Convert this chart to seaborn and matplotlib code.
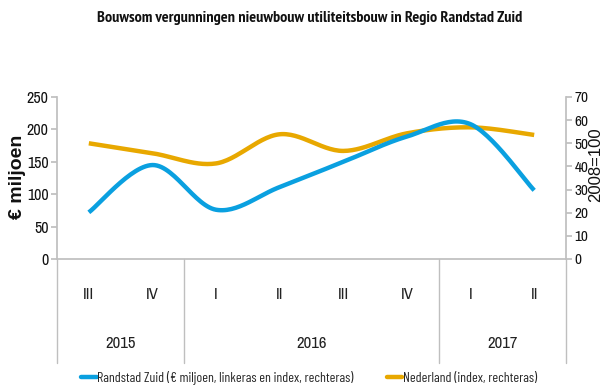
import numpy as np
import pandas as pd
import matplotlib
matplotlib.use("Agg")
import matplotlib.pyplot as plt
import matplotlib.transforms as mtransforms
from matplotlib.lines import Line2D
import seaborn as sns

# Quarterly data
kwartalen = ["III", "IV", "I", "II", "III", "IV", "I", "II"]
jaren = ["2015", "2016", "2017"]
kwartalen_per_jaar = [2, 4, 2]
randstad_zuid = [72, 145, 76, 111, 150, 189, 208, 106]      # € miljoen (left axis)
nederland = [50, 45.7, 41.3, 53.9, 46.7, 54.3, 56.9, 53.6]  # index 2008=100 (right axis)

BLAUW = "#0AA0E0"
GEEL = "#E8A800"
GRIJS = "#BFBFBF"
SMAL = ["Archivo Narrow", "PT Sans Narrow", "DejaVu Sans"]
SMALLER = ["Barlow Condensed", "Archivo Narrow", "DejaVu Sans"]
SMAL_VET = ["PT Sans Narrow", "Roboto Condensed", "DejaVu Sans"]

sns.set_theme(style="white")
plt.rcParams["font.family"] = SMAL


def smooth(xs, ys, n=30):
    """Cubic Bezier smoothing through every point (Catmull-Rom style)."""
    p = np.column_stack([xs, ys]).astype(float)
    p_ext = np.vstack([p[0], p, p[-1]])
    out = []
    t = np.linspace(0, 1, n)[:, None]
    for i in range(len(p) - 1):
        p0, p3 = p[i], p[i + 1]
        c1 = p0 + (p_ext[i + 2] - p_ext[i]) / 6.0
        c2 = p3 - (p_ext[i + 3] - p_ext[i + 1]) / 6.0
        seg = ((1 - t) ** 3) * p0 + 3 * ((1 - t) ** 2) * t * c1 + 3 * (1 - t) * t ** 2 * c2 + t ** 3 * p3
        out.append(seg if i == 0 else seg[1:])
    out = np.vstack(out)
    return out[:, 0], out[:, 1]


x = np.arange(len(kwartalen))
bx, by = smooth(x, randstad_zuid)
nx, ny = smooth(x, nederland)
df_rz = pd.DataFrame({"x": bx, "y": by})
df_nl = pd.DataFrame({"x": nx, "y": ny})

fig = plt.figure(figsize=(6.03, 3.90), dpi=100)
ax = fig.add_axes([57 / 603, 1 - 259 / 390, (566 - 57) / 603, (259 - 97) / 390])
ax2 = ax.twinx()

sns.lineplot(data=df_nl, x="x", y="y", sort=False, ax=ax2, color=GEEL, lw=3.2,
             solid_capstyle="butt")
sns.lineplot(data=df_rz, x="x", y="y", sort=False, ax=ax, color=BLAUW, lw=3.2,
             solid_capstyle="butt")
ax.set_zorder(ax2.get_zorder() + 1)
ax.patch.set_visible(False)

ax.set_xlim(-0.5, len(kwartalen) - 0.5)
ax.set_ylim(0, 250)
ax2.set_ylim(0, 70)
ax.set_yticks(np.arange(0, 251, 50))
ax2.set_yticks(np.arange(0, 71, 10))

ax.set_yticklabels([str(v) for v in range(0, 251, 50)], fontsize=11.5)
ax2.set_yticklabels([str(v) for v in range(0, 71, 10)], fontsize=11)

for a in (ax, ax2):
    for s in a.spines.values():
        s.set_visible(False)
    a.set_xlabel("")
    a.set_ylabel("")
ax.spines["left"].set_visible(True)
ax.spines["left"].set_color(GRIJS)
ax.spines["bottom"].set_visible(True)
ax.spines["bottom"].set_color(GRIJS)
ax2.spines["right"].set_visible(True)
ax2.spines["right"].set_color(GRIJS)

ax.tick_params(axis="y", left=True, length=4, color=GRIJS, pad=2, labelcolor="#111111")
ax2.tick_params(axis="y", right=True, length=4, color=GRIJS, pad=2, labelcolor="#111111")

# Quarter labels
ax.set_xticks(x)
ax.set_xticklabels(kwartalen, fontsize=12, color="#222222")
ax.tick_params(axis="x", bottom=False, length=0, pad=20)

# Year labels and separators
trans = mtransforms.blended_transform_factory(ax.transData, ax.transAxes)
grens = -0.5
grenzen = [grens]
for jaar, n in zip(jaren, kwartalen_per_jaar):
    midden = grens + n / 2
    ax.text(midden, -0.52, jaar, transform=trans, ha="center", va="center",
            fontsize=12, color="#222222")
    grens += n
    grenzen.append(grens)
for g in grenzen:
    ax.add_line(Line2D([g, g], [0, -0.64], transform=trans, color=GRIJS, lw=1,
                       clip_on=False))

# Axis titles
fig.text(18 / 603, 1 - 177 / 390, "€ miljoen", rotation=90, ha="center", va="center",
         fontsize=14, fontweight="bold", family=["Liberation Sans", "DejaVu Sans"],
         color="#111111")
fig.text(595.5 / 603, 1 - 165 / 390, "2008=100", rotation=90, ha="center", va="center",
         fontsize=12, family=["Liberation Sans", "DejaVu Sans"], color="#111111")

fig.text(0.513, 0.953, "Bouwsom vergunningen nieuwbouw utiliteitsbouw in Regio Randstad Zuid",
         ha="center", va="center", fontsize=11.6, fontweight="bold", family=SMAL_VET,
         color="#111111")

handles = [Line2D([], [], color=BLAUW, lw=3.2), Line2D([], [], color=GEEL, lw=3.2)]
labels = ["Randstad Zuid (€ miljoen, linkeras en index, rechteras)",
          "Nederland (index, rechteras)"]
fig.legend(handles, labels, loc="center", bbox_to_anchor=(0.513, 0.031), ncol=2,
           frameon=False, prop={"family": SMALLER, "size": 10}, handlelength=1.1,
           handletextpad=0.05, columnspacing=2.4)

fig.savefig("out.png", dpi=100)
